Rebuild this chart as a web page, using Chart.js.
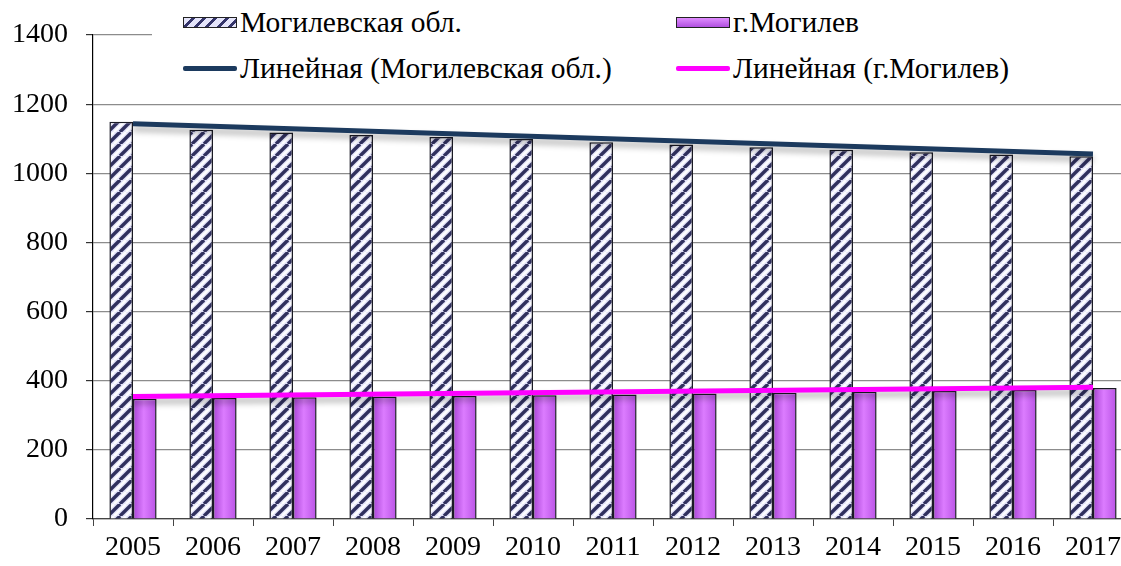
<!DOCTYPE html>
<html lang="ru">
<head>
    <meta charset="UTF-8">
    <title>Могилевская обл. и г.Могилев</title>
    <script src="https://cdn.jsdelivr.net/npm/chart.js"></script>
    <style>
        html, body { margin: 0; padding: 0; background: #fff; overflow: hidden; }
        #wrap { position: relative; width: 1121px; height: 566px; overflow: hidden; }
        #legend { position: absolute; left: 152px; top: 0; width: 969px; height: 95px; background: #fff;
                  font-family: "Liberation Serif", "Times New Roman", serif; font-size: 29.5px; color: #000; }
        .item { position: absolute; height: 34px; line-height: 34px; white-space: nowrap; }
        .sw { position: absolute; left: 0; width: 54px; }
        .item span { position: absolute; left: 57px; top: 0; }
        .hatch { top: 12px; height: 11px; border: 1.5px solid #222; box-sizing: border-box;
                 background: repeating-linear-gradient(135deg, #e4e4fa 0 5px, #34346a 5px 8px); }
        .violet { top: 12px; height: 11px; border: 1.5px solid #222; box-sizing: border-box;
                  background: linear-gradient(#e08cff, #b050e0); }
        .ln { top: 15px; height: 5px; border-radius: 2px; }
    </style>
</head>
<body>
<div id="wrap">
    <canvas id="chart" width="1133" height="566"></canvas>
    <div id="legend">
        <div class="item" style="left:31px; top:5px;"><div class="sw hatch"></div><span>Могилевская обл.</span></div>
        <div class="item" style="left:524px; top:5px;"><div class="sw violet"></div><span>г.Могилев</span></div>
        <div class="item" style="left:31px; top:51px;"><div class="sw ln" style="background:#1c3a5e"></div><span>Линейная (Могилевская обл.)</span></div>
        <div class="item" style="left:524px; top:51px;"><div class="sw ln" style="background:#ff00ff"></div><span>Линейная (г.Могилев)</span></div>
    </div>
</div>
<script>
    const years = ['2005', '2006', '2007', '2008', '2009', '2010', '2011', '2012', '2013', '2014', '2015', '2016', '2017'];
    const oblast = [1149, 1126, 1118, 1111, 1105, 1099, 1090, 1083, 1075, 1068, 1061, 1054, 1049];
    const city = [348, 350, 352, 354, 356, 358, 360, 363, 365, 368, 370, 373, 379];
    // trend lines: only the two end values
    const oblastTrendEnds = [1143, 1056];
    const cityTrendEnds = [354, 381];
    const yTicks = [0, 200, 400, 600, 800, 1000, 1200, 1400];

    function endsToSeries(ends) {
        const arr = years.map(() => null);
        arr[0] = ends[0];
        arr[years.length - 1] = ends[1];
        return arr;
    }

    // hatched fill for Могилевская обл.
    const T = 12;
    const tile = document.createElement('canvas');
    tile.width = T; tile.height = T;
    const t = tile.getContext('2d');
    t.fillStyle = '#e2e2f8';
    t.fillRect(0, 0, T, T);
    t.strokeStyle = 'rgba(255,255,255,0.9)';
    t.lineWidth = 2.5;
    for (const k of [-1.5 * T, -0.5 * T, 0.5 * T, 1.5 * T]) { t.beginPath(); t.moveTo(k, T); t.lineTo(k + T, 0); t.stroke(); }
    t.strokeStyle = '#30305e';
    t.lineWidth = 3.4;
    for (const k of [-T, 0, T]) { t.beginPath(); t.moveTo(k, T); t.lineTo(k + T, 0); t.stroke(); }
    const ctx = document.getElementById('chart').getContext('2d');
    const hatch = ctx.createPattern(tile, 'repeat');

    function violetFill(c) {
        const sx = c.chart.scales && c.chart.scales.x;
        const cx = sx ? sx.getPixelForValue(c.dataIndex) : NaN;
        if (!isFinite(cx)) return '#c864f0';
        const g = c.chart.ctx.createLinearGradient(cx, 0, cx + 24, 0);
        g.addColorStop(0, '#a844d4');
        g.addColorStop(0.45, '#dc7cff');
        g.addColorStop(1, '#b852e4');
        return g;
    }

    const lineShadow = {
        id: 'lineShadow',
        beforeDatasetDraw(chart, args) {
            if (chart.data.datasets[args.index].type === 'line') {
                chart.ctx.save();
                chart.ctx.shadowColor = 'rgba(0,0,0,0.3)';
                chart.ctx.shadowBlur = 6;
                chart.ctx.shadowOffsetY = 5;
            }
        },
        afterDatasetDraw(chart, args) {
            if (chart.data.datasets[args.index].type === 'line') chart.ctx.restore();
        }
    };

    const font = { family: '"Liberation Serif", "Times New Roman", serif', size: 28 };

    new Chart(ctx, {
        type: 'bar',
        data: {
            labels: years,
            datasets: [
                {
                    label: 'Линейная (Могилевская обл.)',
                    type: 'line',
                    data: endsToSeries(oblastTrendEnds),
                    borderColor: '#1c3a5e',
                    borderWidth: 5,
                    pointRadius: 0,
                    spanGaps: true,
                    order: 0
                },
                {
                    label: 'Линейная (г.Могилев)',
                    type: 'line',
                    data: endsToSeries(cityTrendEnds),
                    borderColor: '#ff00ff',
                    borderWidth: 5,
                    pointRadius: 0,
                    spanGaps: true,
                    order: 0
                },
                {
                    label: 'Могилевская обл.',
                    data: oblast,
                    backgroundColor: hatch,
                    borderColor: '#1a1a24',
                    borderWidth: 1.5,
                    order: 1
                },
                {
                    label: 'г.Могилев',
                    data: city,
                    backgroundColor: violetFill,
                    borderColor: '#1a1a24',
                    borderWidth: 1.5,
                    order: 1
                }
            ]
        },
        options: {
            responsive: false,
            animation: false,
            layout: { padding: { top: 35, left: 0, right: 0, bottom: 0 } },
            datasets: { bar: { barPercentage: 1, categoryPercentage: 0.59 } },
            plugins: { legend: { display: false }, tooltip: { enabled: false } },
            scales: {
                x: {
                    afterFit: s => { s.height = 47; },
                    grid: { drawOnChartArea: false, drawTicks: true, tickLength: 7, tickColor: '#444', offset: true },
                    border: { color: '#444', width: 1.2 },
                    ticks: { font: font, color: '#000', padding: 5, maxRotation: 0, autoSkip: false }
                },
                y: {
                    min: 0,
                    max: 1400,
                    afterFit: s => { s.width = 93; },
                    afterBuildTicks: s => { s.ticks = yTicks.map(v => ({ value: v })); },
                    grid: { color: '#8c8c8c', lineWidth: 1.2, tickLength: 7, tickColor: '#333' },
                    border: { color: '#000', width: 1.2 },
                    ticks: { font: font, color: '#000', padding: 18, callback: v => String(v) }
                }
            }
        },
        plugins: [lineShadow]
    });
</script>
</body>
</html>
